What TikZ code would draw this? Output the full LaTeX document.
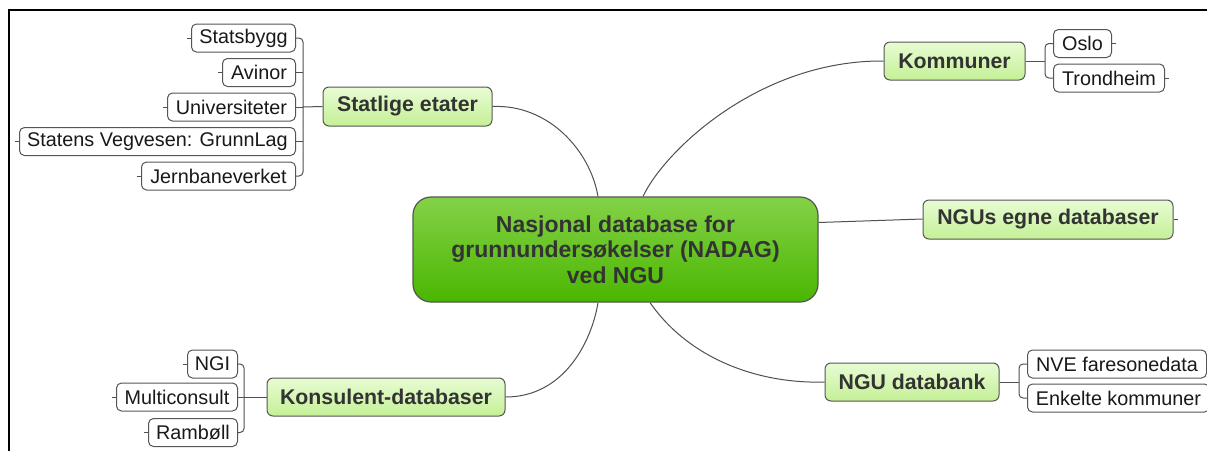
\documentclass[tikz,border=0pt]{standalone}
\usepackage{fontspec}
\setmainfont{Liberation Sans}
\usetikzlibrary{calc}
\definecolor{linec}{RGB}{80,80,80}
\definecolor{boxline}{RGB}{85,85,85}
\definecolor{gtop}{RGB}{232,252,212}
\definecolor{gbot}{RGB}{196,240,150}
\definecolor{ctop}{RGB}{132,210,72}
\definecolor{cbot}{RGB}{74,182,0}
\definecolor{txtdark}{RGB}{51,51,51}
\definecolor{txtleaf}{RGB}{25,25,25}
\tikzset{
  leaf/.style={draw=boxline, line width=1pt, fill=white, rounded corners=5pt,
    minimum height=28pt, inner sep=0pt, text=txtleaf,
    font=\fontsize{19.8}{23}\selectfont},
  branch/.style={draw=boxline, line width=1pt, top color=gtop, bottom color=gbot,
    rounded corners=6pt, inner sep=0pt, text=txtdark,
    font=\fontsize{21.3}{25}\selectfont\bfseries},
  hub/.style={draw=boxline, line width=1.2pt, top color=ctop, bottom color=cbot,
    rounded corners=18pt, inner sep=0pt, text=txtdark, align=center,
    font=\fontsize{23}{25.5}\selectfont\bfseries},
  conn/.style={draw=linec, line width=1pt},
  brack/.style={draw=linec, line width=1pt, rounded corners=4pt},
}
\begin{document}
\begin{tikzpicture}[x=1pt,y=-1pt]
\useasboundingbox (0,0) rectangle (1207,451);
\fill[white] (0,0) rectangle (1207,451);
\draw[line width=2pt] (8.5,451) -- (8.5,10) -- (1207,10);

% hub
\node[hub, minimum width=405pt, minimum height=105pt] (nadag) at (615.5,249.5)
  {Nasjonal database for\\grunnundersøkelser (NADAG)\\ved NGU};

% branches
\node[branch, minimum width=169pt, minimum height=39pt] (statlige) at (407.5,106.5) {Statlige etater};
\node[branch, minimum width=141pt, minimum height=38pt] (kommuner) at (954.5,61) {Kommuner};
\node[branch, minimum width=250pt, minimum height=39pt] (ngus) at (1048,219.5) {NGUs egne databaser};
\node[branch, minimum width=174pt, minimum height=38pt] (databank) at (912,382) {NGU databank};
\node[branch, minimum width=238pt, minimum height=38pt] (konsulent) at (386,397) {Konsulent-databaser};

% leaves of Statlige etater
\node[leaf, anchor=east, minimum width=104pt] (s1) at (296,38) {Statsbygg};
\node[leaf, anchor=east, minimum width=73pt] (s2) at (296,72.5) {Avinor};
\node[leaf, anchor=east, minimum width=128pt] (s3) at (296,107) {Universiteter};
\node[leaf, anchor=east, minimum width=276pt] (s4) at (296,141.5) {Statens Vegvesen: GrunnLag};
\node[leaf, anchor=east, minimum width=154pt] (s5) at (296,176) {Jernbaneverket};

% leaves of Kommuner
\node[leaf, anchor=west, minimum width=58pt] (k1) at (1053,43.5) {Oslo};
\node[leaf, anchor=west, minimum width=111pt] (k2) at (1053,78) {Trondheim};

% leaves of NGU databank
\node[leaf, anchor=west, minimum width=179pt] (d1) at (1027,364) {NVE faresonedata};
\node[leaf, anchor=west, minimum width=182pt] (d2) at (1027,398) {Enkelte kommuner};

% leaves of Konsulent-databaser
\node[leaf, anchor=east, minimum width=50pt] (c1) at (238,364) {NGI};
\node[leaf, anchor=east, minimum width=121pt] (c2) at (238,397) {Multiconsult};
\node[leaf, anchor=east, minimum width=89pt] (c3) at (238,432.5) {Rambøll};

% main connectors
\draw[conn] (statlige.east) .. controls (548,104) and (590,150) .. ($(nadag.north)+(-17.5,0)$);
\draw[conn] (kommuner.west) .. controls (760,60) and (665,150) .. ($(nadag.north)+(27.5,0)$);
\draw[conn] ($(nadag.east)+(0,-27)$) -- ($(ngus.west)+(0,-0.5)$);
\draw[conn] ($(nadag.south)+(34.5,0)$) .. controls (690,360) and (760,384) .. (databank.west);
\draw[conn] (konsulent.east) .. controls (565,397) and (592,340) .. ($(nadag.south)+(-17.5,0)$);

% brackets
\coordinate (bs) at (303,107);
\draw[brack] (s1.east) -| (bs) |- (s5.east);
\draw[conn] (statlige.west) -- (bs);
\draw[conn] (s2.east) -- (s2.east -| bs);
\draw[conn] (s3.east) -- (bs);
\draw[conn] (s4.east) -- (s4.east -| bs);

\coordinate (bk) at (1045,61);
\draw[brack] (k1.west) -| (bk) |- (k2.west);
\draw[conn] (kommuner.east) -- (bk);

\coordinate (bd) at (1019,382);
\draw[brack] (d1.west) -| (bd) |- (d2.west);
\draw[conn] (databank.east) -- (bd);

\coordinate (bc) at (244,397);
\draw[brack] (c1.east) -| (bc) |- (c3.east);
\draw[conn] (konsulent.west) -- (bc);
\draw[conn] (c2.east) -- (bc);

% collapse stubs
\foreach \n in {s1,s2,s3,s4,s5,c1,c2,c3} \draw[conn] (\n.west) -- ++(-4,0);
\foreach \n in {k1,k2,d1,d2,ngus} \draw[conn] (\n.east) -- ++(4,0);
\end{tikzpicture}
\end{document}
